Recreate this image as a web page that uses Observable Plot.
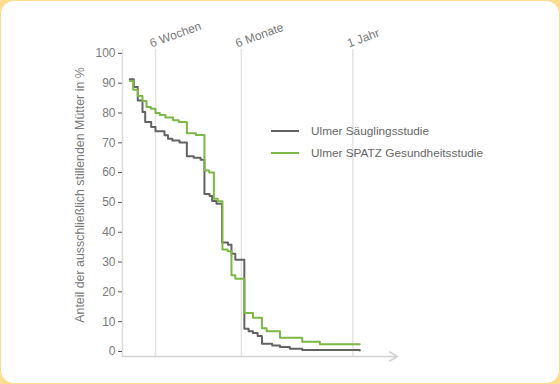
<!DOCTYPE html>
<html>
<head>
<meta charset="utf-8">
<script src="https://cdn.jsdelivr.net/npm/d3@7"></script>
<script src="https://cdn.jsdelivr.net/npm/@observablehq/plot@0.6"></script>
<style>
  html, body { margin: 0; padding: 0; }
  body { width: 560px; height: 384px; background: #fcdd92; position: relative; overflow: hidden;
         font-family: "Liberation Sans", Arial, Helvetica, sans-serif; }
  #panel { position: absolute; left: 1px; top: 1px; width: 558px; height: 382px; background: #fff; border-radius: 13px; }
  #chart { position: absolute; left: 0; top: 0; }
  #legend { position: absolute; left: 271px; top: 120px; font-size: 11.8px; color: #666; }
  .item { display: flex; align-items: center; height: 22px; }
  .swatch { width: 28px; height: 2px; margin-right: 12px; }
</style>
</head>
<body>
<div id="panel"></div>
<div id="chart"></div>
<div id="legend"></div>
<script>
// ---- data ----
const seriesNames = ["Ulmer Säuglingsstudie", "Ulmer SPATZ Gesundheitsstudie"];
const seriesColors = ["#636363", "#7cb844"];

// time in weeks since birth
const weeksA = [0, 0.93, 1.86, 2.96, 3.59, 4.99, 5.99, 8.09, 8.9, 9.9, 11.6, 13.3, 14.9, 16.5, 17.4, 18.6, 19.2, 20.2, 21.5, 22.9, 23.7, 24.6, 26.7, 27.7, 28.7, 29.8, 30.8, 33.2, 35.0, 37.3, 40.2, 53.6];
const valuesA = [91.3, 88.7, 84.2, 80.3, 77.0, 75.3, 73.9, 72.5, 71.4, 70.8, 70.1, 65.5, 65.0, 64.3, 52.8, 52.2, 50.5, 49.6, 36.6, 35.8, 32.8, 30.8, 7.6, 6.8, 6.2, 5.2, 2.6, 2.0, 1.5, 0.9, 0.5, 0.3];

const weeksB = [0, 0.79, 1.86, 2.96, 3.9, 4.9, 5.99, 7.0, 8.3, 10.1, 11.4, 13.3, 15.4, 17.4, 18.5, 19.6, 20.5, 21.6, 22.8, 23.7, 24.6, 26.7, 28.7, 30.8, 31.9, 35.0, 40.2, 44.3, 53.6];
const valuesB = [90.7, 87.8, 85.7, 84.0, 82.0, 81.4, 80.0, 79.3, 78.5, 77.6, 77.0, 73.2, 72.6, 60.7, 60.0, 51.2, 50.4, 34.2, 33.6, 25.6, 24.4, 12.9, 11.3, 7.8, 6.8, 4.6, 3.3, 2.4, 2.4];

const markWeeks = [6, 26, 52];
const markLabels = ["6 Wochen", "6 Monate", "1 Jahr"];
const yTicks = [0, 10, 20, 30, 40, 50, 60, 70, 80, 90, 100];
const yLabel = "Anteil der ausschließlich stillenden Mütter in %";

// ---- build ----
const rows = [
  ...weeksA.map((w, i) => ({series: seriesNames[0], week: w, value: valuesA[i]})),
  ...weeksB.map((w, i) => ({series: seriesNames[1], week: w, value: valuesB[i]}))
];
const xDomain = [-1.7, 62.4];
const yDomain = [-1.68, 101.3];
const marks = markWeeks.map((w, i) => ({week: w, label: markLabels[i]}));

const chart = Plot.plot({
  width: 560,
  height: 384,
  marginLeft: 122,
  marginRight: 163,
  marginTop: 49,
  marginBottom: 28,
  style: {background: "transparent", fontFamily: "'Liberation Sans', Arial, sans-serif", fontSize: "12px"},
  x: {domain: xDomain, axis: null},
  y: {domain: yDomain, axis: null},
  color: {domain: seriesNames, range: seriesColors},
  marks: [
    Plot.ruleX(marks, {x: "week", stroke: "#e3e3e3", strokeWidth: 1.5}),
    Plot.ruleX([xDomain[0]], {stroke: "#dcdcdc", strokeWidth: 1.5}),
    Plot.arrow([{a: xDomain[0], b: xDomain[1]}], {x1: "a", x2: "b", y1: () => yDomain[0], y2: () => yDomain[0], stroke: "#d3d3d3", strokeWidth: 1.5, headLength: 9, bend: 0}),
    Plot.axisY({ticks: yTicks, tickSize: 4, tickPadding: 3, stroke: "#555", fill: "#7a7a7a", label: null, fontSize: 12}),
    Plot.text([yLabel], {text: d => d, frameAnchor: "left", textAnchor: "middle", lineAnchor: "middle", rotate: -90, dx: -42, dy: -8, fill: "#7a7a7a", fontSize: 12.4}),
    Plot.text(marks, {x: "week", text: "label", frameAnchor: "top", rotate: -20, textAnchor: "start", lineAnchor: "bottom", dx: -4, dy: -2, fill: "#7a7a7a", fontSize: 12}),
    Plot.line(rows, {x: "week", y: "value", z: "series", stroke: "series", curve: "step-after", strokeWidth: 2})
  ]
});
document.getElementById("chart").appendChild(chart);

const legend = document.getElementById("legend");
seriesNames.forEach((name, i) => {
  const item = document.createElement("div");
  item.className = "item";
  const sw = document.createElement("div");
  sw.className = "swatch";
  sw.style.background = seriesColors[i];
  const tx = document.createElement("span");
  tx.textContent = name;
  item.appendChild(sw);
  item.appendChild(tx);
  legend.appendChild(item);
});
</script>
</body>
</html>
